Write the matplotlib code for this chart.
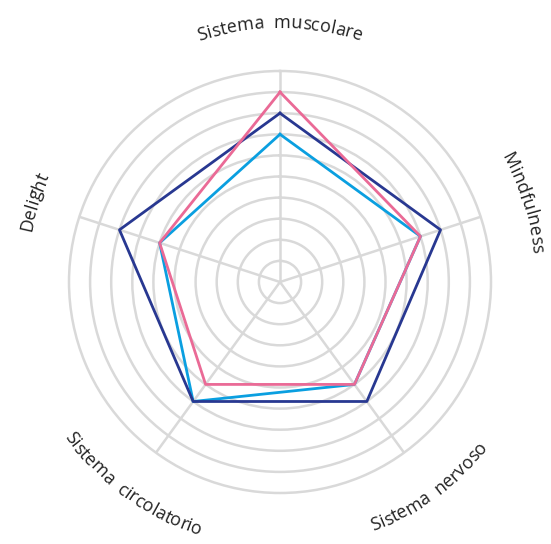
import numpy as np
import matplotlib.pyplot as plt
from matplotlib.font_manager import FontProperties
from matplotlib.textpath import TextToPath

# axis labels, clockwise from the top
categories = ['Sistema  muscolare', 'Mindfulness', 'Sistema  nervoso',
              'Sistema  circolatorio', 'Delight']
# series values on a 0-10 scale
navy_values = [8, 8, 7, 7, 8]
blue_values = [7, 7, 6, 7, 6]
pink_values = [9, 7, 6, 6, 6]

grid_color = '#d9d9d9'
text_color = '#222222'

fig = plt.figure(figsize=(5.51, 5.44), dpi=100)
cx, cy, rad = 280, 262, 211  # centre (px from bottom-left) and outer radius
ax = fig.add_axes([(cx - rad) / 551, (cy - rad) / 544, 2 * rad / 551, 2 * rad / 544],
                  projection='polar')
ax.set_theta_zero_location('N')
ax.set_theta_direction(-1)
ax.set_ylim(0, 10)

theta = np.deg2rad(np.arange(len(categories)) * 360 / len(categories))
ax.set_xticks(theta)
ax.set_xticklabels([])
ax.set_yticks(range(1, 10))
ax.set_yticklabels([])
ax.grid(color=grid_color, linewidth=1.8)
ax.spines['polar'].set_color(grid_color)
ax.spines['polar'].set_linewidth(1.8)

closed = np.append(theta, theta[0])
for vals, color in [(blue_values, '#0a9fe0'), (navy_values, '#283891'),
                    (pink_values, '#ea6a96')]:
    ax.plot(closed, np.append(vals, vals[0]), color=color, linewidth=2.0,
            solid_joinstyle='round')

# curved labels, one character at a time
fp = FontProperties(family='Open Sans', size=13)
ttp = TextToPath()
px = fig.dpi / 72
unit = rad / 10


def advance(s):
    return (ttp.get_text_width_height_descent(s + 'x', fp, ismath=False)[0]
            - ttp.get_text_width_height_descent('x', fp, ismath=False)[0]) * px


for label, th in zip(categories, theta):
    phi = np.rad2deg(th)
    flipped = 90 < phi < 270
    r_px = 266 if flipped else 254
    total = advance(label)
    for i, ch in enumerate(label):
        if ch == ' ':
            continue
        mid = (advance(label[:i]) + advance(label[:i + 1])) / 2 - total / 2
        off = mid / r_px
        t = th - off if flipped else th + off
        rot = 180 - np.rad2deg(t) if flipped else -np.rad2deg(t)
        ax.text(t, r_px / unit, ch, fontproperties=fp, color=text_color,
                rotation=rot, rotation_mode='anchor', ha='center', va='baseline')

fig.savefig('out.png', dpi=100)
